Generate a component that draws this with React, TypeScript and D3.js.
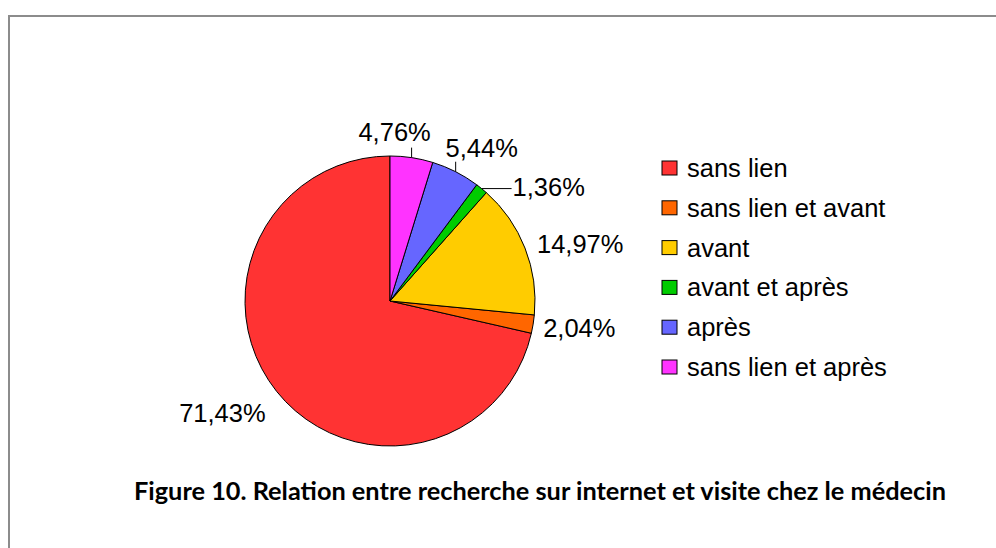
import React from "react";
import * as d3 from "d3";

// data
const categories = [
  "sans lien",
  "sans lien et avant",
  "avant",
  "avant et après",
  "après",
  "sans lien et après",
];
const shares = [71.43, 2.04, 14.97, 1.36, 5.44, 4.76];
const sliceColors = ["#FF3333", "#FF6600", "#FFCC00", "#00CC00", "#6666FF", "#FF33FF"];
const title = "Figure 10. Relation entre recherche sur internet et visite chez le médecin";

const W = 996;
const H = 548;
const cx = 390;
const cy = 301;
const radius = 145;

// label nudges (relative to the slice edge at mid angle), like Excel placed them
const labelNudge: [number, number][] = [
  [-11, 31],
  [10, 13],
  [12, 5],
  [31, 7],
  [26, -15],
  [-17, -17],
];

const fmt = (v: number) => v.toFixed(2).replace(".", ",") + "%";

export default function App() {
  const pie = d3
    .pie<number>()
    .sort(null)
    .value((d) => d)
    .startAngle(0)
    .endAngle(-2 * Math.PI);
  const arcs = pie(shares);
  const arc = d3.arc<d3.PieArcDatum<number>>().innerRadius(0).outerRadius(radius);

  const legendY = d3.scalePoint<string>().domain(categories).range([168, 367]);

  return (
    <svg
      width={W}
      height={H}
      style={{ position: "absolute", left: 0, top: 0, background: "#fff" }}
    >
      {/* frame */}
      <path d={`M9,${H} V16 H${W}`} fill="none" stroke="#8c8c8c" strokeWidth={2} />

      <g transform={`translate(${cx},${cy})`}>
        {arcs.map((d, i) => (
          <path key={i} d={arc(d) || ""} fill={sliceColors[i]} stroke="#000" strokeWidth={1} />
        ))}
      </g>

      {/* data labels */}
      <g fontFamily="'Liberation Sans', Arial, sans-serif" fontSize={25.5} fill="#000">
        {arcs.map((d, i) => {
          const a = (d.startAngle + d.endAngle) / 2;
          const ex = cx + radius * Math.sin(a);
          const ey = cy - radius * Math.cos(a);
          const s = Math.sin(a);
          const c = Math.cos(a);
          const small = d.data < 6 && c > 0.5;
          const vertical = small && c > 0.85;
          const anchor = vertical ? "middle" : s > 0 ? "start" : "end";
          const [dx, dy] = labelNudge[i];
          return (
            <g key={i}>
              {small && vertical && (
                <line x1={ex} y1={ey} x2={ex} y2={ey - 10} stroke="#000" strokeWidth={1} />
              )}
              {small && !vertical && (
                <line x1={ex} y1={ey} x2={ex + 30} y2={ey} stroke="#000" strokeWidth={1} />
              )}
              <text x={ex + dx} y={ey + dy} textAnchor={anchor}>
                {fmt(d.data)}
              </text>
            </g>
          );
        })}
      </g>

      {/* legend */}
      <g fontFamily="'Liberation Sans', Arial, sans-serif" fontSize={25.5}>
        {categories.map((cat, i) => {
          const y = legendY(cat) as number;
          return (
            <g key={cat} transform={`translate(662,${y})`}>
              <rect x={0} y={-7} width={15} height={14} fill={sliceColors[i]} stroke="#000" strokeWidth={1} />
              <text x={25} y={9}>
                {cat}
              </text>
            </g>
          );
        })}
      </g>

      <text
        x={134}
        y={500}
        fontFamily="Lato, sans-serif"
        fontWeight="bold"
        fontSize={24}
        textLength={812}
        lengthAdjust="spacingAndGlyphs"
      >
        {title}
      </text>
    </svg>
  );
}
